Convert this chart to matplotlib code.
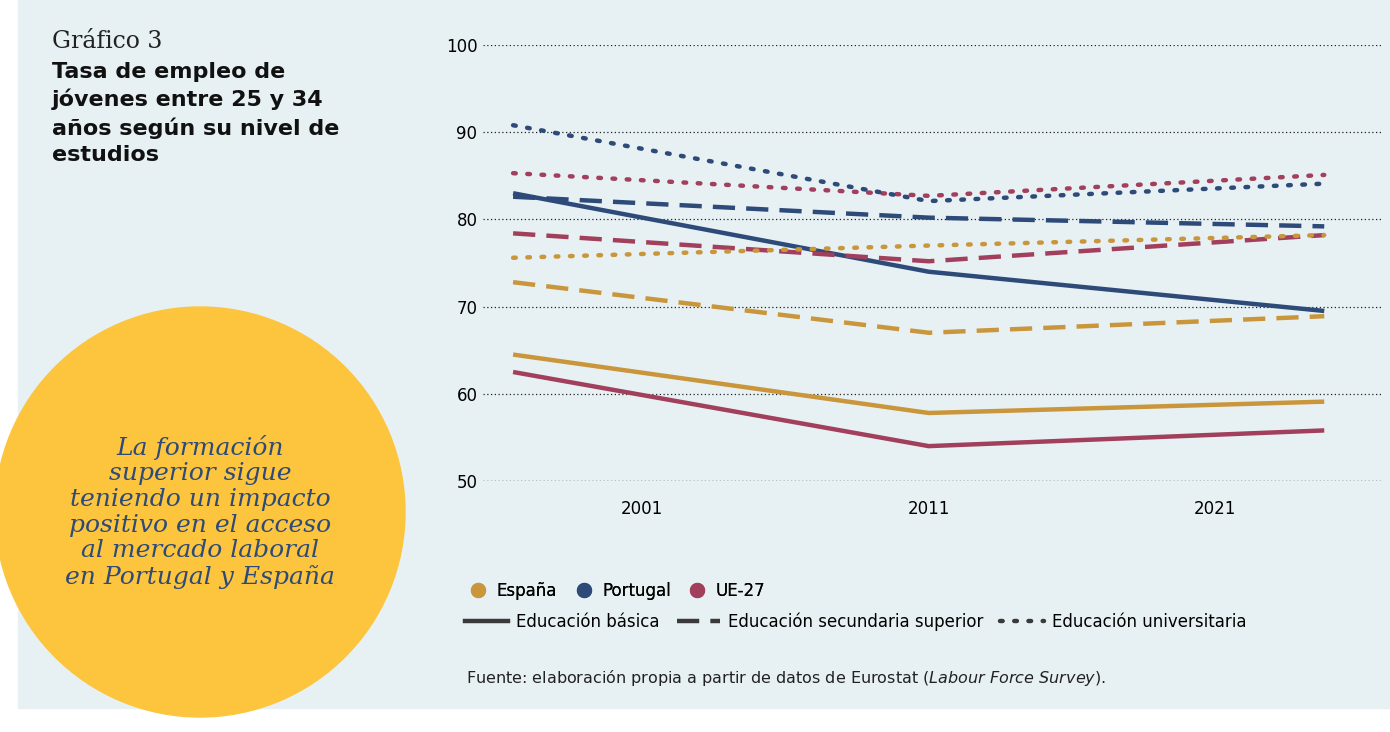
import matplotlib
matplotlib.use("Agg")
import matplotlib.pyplot as plt
from matplotlib.lines import Line2D
from matplotlib.patches import Circle, Rectangle

# data
years = [1996.5, 2011, 2024.8]
esp_basica = [64.5, 57.8, 59.1]
por_basica = [83.0, 74.0, 69.5]
ue_basica = [62.5, 54.0, 55.8]
esp_secund = [72.8, 67.0, 68.9]
por_secund = [82.6, 80.2, 79.2]
ue_secund = [78.4, 75.2, 78.2]
esp_univ = [75.6, 77.0, 78.2]
por_univ = [90.8, 82.1, 84.1]
ue_univ = [85.3, 82.7, 85.1]
tick_years = [2001, 2011, 2021]

GOLD = "#C9963B"
NAVY = "#2D4A78"
RED = "#A23F5C"
BG = "#E7F1F4"

fig = plt.figure(figsize=(13.9, 7.32), dpi=100)
fig.patch.set_facecolor("white")
fig.add_artist(Rectangle((18 / 1390, 1 - 708 / 732), 1, 708 / 732,
                         transform=fig.transFigure, color=BG, zorder=-5))

# circle + callout text in pixel space
cax = fig.add_axes([0, 0, 1, 1], zorder=-3)
cax.set_xlim(0, 1390)
cax.set_ylim(732, 0)
cax.axis("off")
cax.add_patch(Circle((200, 512), 205, color="#FDC53E"))
cax.text(200, 512, "La formación\nsuperior sigue\nteniendo un impacto\npositivo en el acceso\nal mercado laboral\nen Portugal y España",
         ha="center", va="center", family="DejaVu Serif", style="italic",
         fontsize=18, color=NAVY, linespacing=1.15)

ax = fig.add_axes([483 / 1390, 1 - 481 / 732, 900 / 1390, 436 / 732])
ax.set_facecolor("none")
ax.set_xlim(1995.45, 2026.85)
ax.set_ylim(50, 100)
ax.set_yticks([50, 60, 70, 80, 90, 100])
ax.set_xticks(tick_years)
ax.tick_params(length=0, labelsize=12, pad=14)
ax.tick_params(axis="y", pad=4)
for s in ax.spines.values():
    s.set_visible(False)
ax.grid(axis="y", color="#222222", linestyle=(0, (1, 2)), linewidth=0.9)
ax.axhline(50, color="#222222", linewidth=0.9, linestyle=(0, (1, 2)))

DASH = (0, (5, 2.5))
DOT = (0, (0.6, 2.6))
series = [
    (esp_basica, GOLD, "-"), (ue_basica, RED, "-"), (por_basica, NAVY, "-"),
    (esp_secund, GOLD, DASH), (ue_secund, RED, DASH), (por_secund, NAVY, DASH),
    (esp_univ, GOLD, DOT), (ue_univ, RED, DOT), (por_univ, NAVY, DOT),
]
for vals, c, ls in series:
    ax.plot(years, vals, color=c, linestyle=ls, linewidth=3.2,
            dash_capstyle="round" if ls == DOT else "butt",
            solid_capstyle="butt")

# legends
h1 = [Line2D([], [], marker="o", linestyle="", color=c, markersize=10)
      for c in (GOLD, NAVY, RED)]
leg1 = fig.legend(h1, ["España", "Portugal", "UE-27"], loc="upper left",
                  bbox_to_anchor=(455 / 1390, 1 - 575 / 732), ncol=3, frameon=False,
                  fontsize=12, handletextpad=0.1, columnspacing=0.6, borderaxespad=0)
h2 = [Line2D([], [], color="#3a3a3a", linewidth=3.2, linestyle=ls)
      for ls in ("-", DASH, DOT)]
h2[2].set_dash_capstyle("round")
fig.legend(h2, ["Educación básica", "Educación secundaria superior",
                "Educación universitaria"], loc="upper left",
           bbox_to_anchor=(458 / 1390, 1 - 606 / 732), ncol=3, frameon=False,
           fontsize=12, handlelength=2.6, handletextpad=0.5, columnspacing=1.0,
           borderaxespad=0)
fig.add_artist(leg1)

fig.text(466 / 1390, 1 - 678 / 732,
         "Fuente: elaboración propia a partir de datos de Eurostat ($\\it{Labour\\ Force\\ Survey}$).",
         fontsize=11.5, va="center", color="#222222")

fig.text(52 / 1390, 1 - 42 / 732, "Gráfico 3", family="DejaVu Serif",
         fontsize=17, va="center", color="#222222")
fig.text(52 / 1390, 1 - 62 / 732,
         "Tasa de empleo de\njóvenes entre 25 y 34\naños según su nivel de\nestudios",
         fontsize=16, fontweight="bold", va="top", linespacing=1.4, color="#111111")

fig.savefig("out.png", dpi=100)
